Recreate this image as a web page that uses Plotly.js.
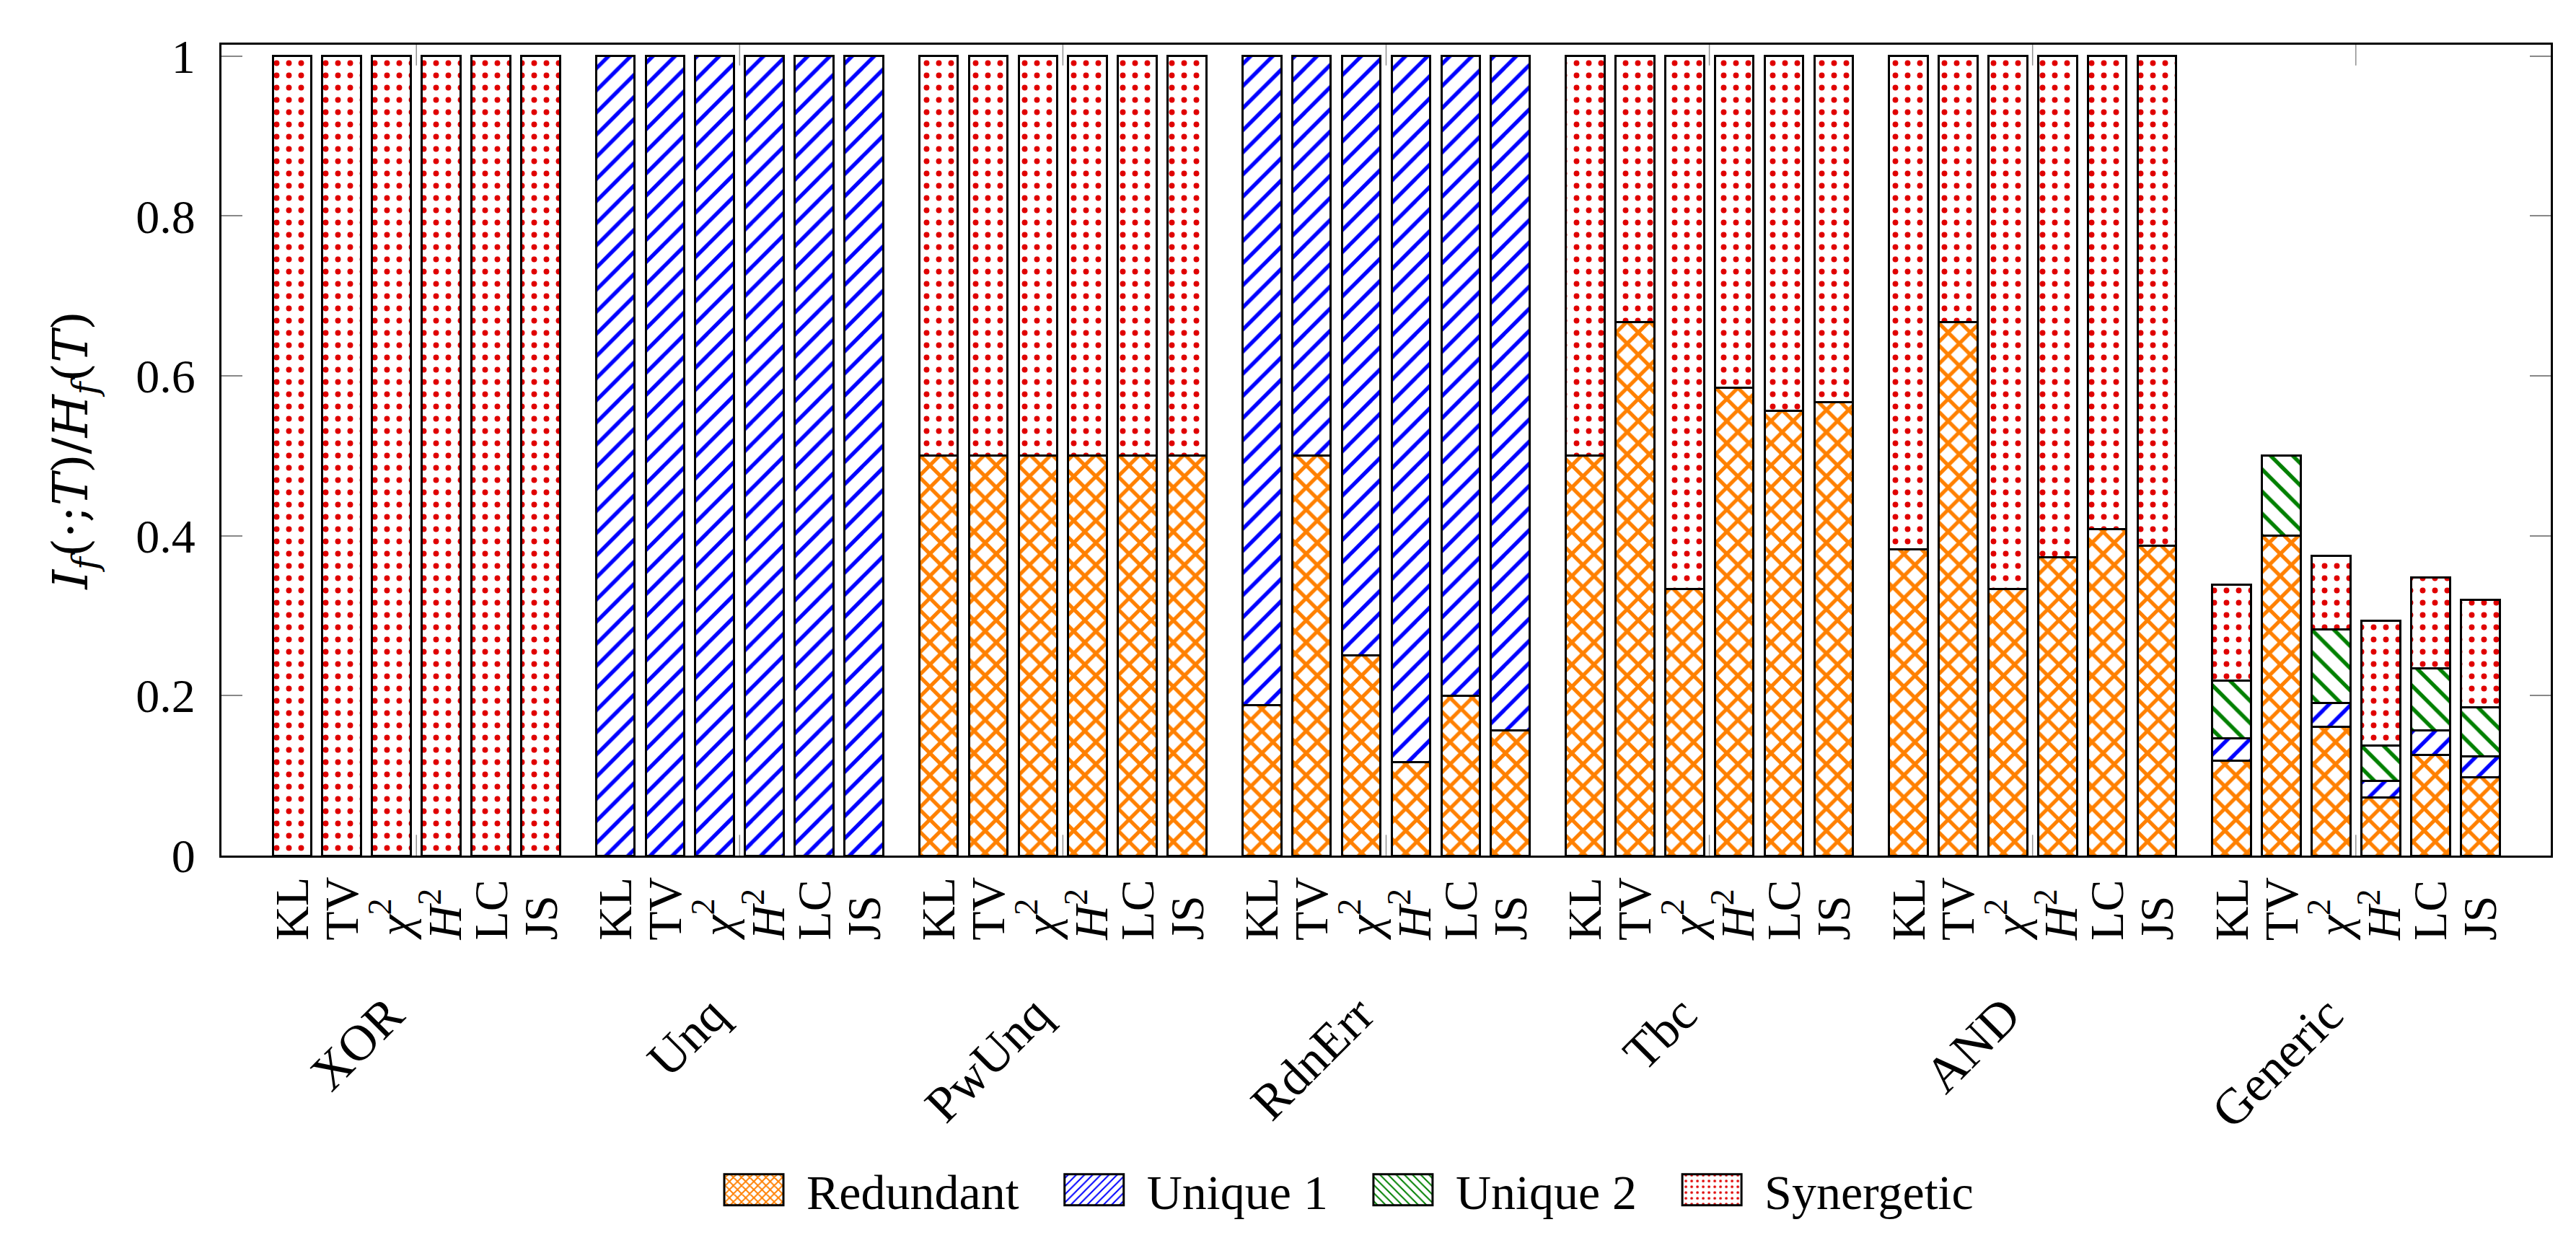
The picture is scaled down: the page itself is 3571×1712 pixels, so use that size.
<!DOCTYPE html>
<html>
<head>
<meta charset="utf-8">
<script src="https://cdn.plot.ly/plotly-3.0.1.min.js"></script>
<style>
  html, body { margin: 0; padding: 0; background: #ffffff; }
  #chart { width: 3571px; height: 1712px; }
</style>
</head>
<body>
<div id="chart"></div>
<script>
var groups = ['XOR', 'Unq', 'PwUnq', 'RdnErr', 'Tbc', 'AND', 'Generic'];
var metrics = ['KL', 'TV', '<i>χ</i><sup>2</sup>', '<i>H</i><sup>2</sup>', 'LC', 'JS'];
var seriesNames = ['Redundant', 'Unique 1', 'Unique 2', 'Synergetic'];
var yTicks = [0, 0.2, 0.4, 0.6, 0.8, 1];

// one row per group, one value per metric
var redundant = [
  [0, 0, 0, 0, 0, 0],
  [0, 0, 0, 0, 0, 0],
  [0.5, 0.5, 0.5, 0.5, 0.5, 0.5],
  [0.188, 0.5, 0.25, 0.117, 0.2, 0.157],
  [0.5, 0.667, 0.333, 0.585, 0.556, 0.567],
  [0.383, 0.667, 0.333, 0.373, 0.408, 0.388],
  [0.119, 0.4, 0.161, 0.073, 0.126, 0.098]
];
var unique1 = [
  [0, 0, 0, 0, 0, 0],
  [1, 1, 1, 1, 1, 1],
  [0, 0, 0, 0, 0, 0],
  [0.812, 0.5, 0.75, 0.883, 0.8, 0.843],
  [0, 0, 0, 0, 0, 0],
  [0, 0, 0, 0, 0, 0],
  [0.028, 0, 0.03, 0.02, 0.031, 0.026]
];
var unique2 = [
  [0, 0, 0, 0, 0, 0],
  [0, 0, 0, 0, 0, 0],
  [0, 0, 0, 0, 0, 0],
  [0, 0, 0, 0, 0, 0],
  [0, 0, 0, 0, 0, 0],
  [0, 0, 0, 0, 0, 0],
  [0.072, 0.1, 0.092, 0.045, 0.077, 0.061]
];
var synergetic = [
  [1, 1, 1, 1, 1, 1],
  [0, 0, 0, 0, 0, 0],
  [0.5, 0.5, 0.5, 0.5, 0.5, 0.5],
  [0, 0, 0, 0, 0, 0],
  [0.5, 0.333, 0.667, 0.415, 0.444, 0.433],
  [0.617, 0.333, 0.667, 0.627, 0.592, 0.612],
  [0.12, 0, 0.092, 0.156, 0.114, 0.135]
];

var FONT = 'Liberation Serif, Times New Roman, serif';
var TITLE_FONT = 'DejaVu Serif, serif';
var GROUP_STEP = 6.5;
var Y_TOP = 1.0143;
var TICK_LEN = 0.0259; // 29 px in y units
var styles = [
  { shape: 'x', color: '#ff8000', size: 21.7, solidity: 0.42 },
  { shape: '/', color: '#0000ff', size: 21.7, solidity: 0.25 },
  { shape: '\\', color: '#008000', size: 21.7, solidity: 0.25 },
  { shape: '.', color: '#e00000', size: 17, solidity: 0.17 }
];

function bar_position(g, i) {
  return g * GROUP_STEP + i;
}

function flatten(rows) {
  var out = [];
  rows.forEach(function (row) {
    row.forEach(function (v) { out.push(v); });
  });
  return out;
}

var xs = [];
groups.forEach(function (name, g) {
  metrics.forEach(function (m, i) { xs.push(bar_position(g, i)); });
});

var traces = [redundant, unique1, unique2, synergetic].map(function (rows, k) {
  var st = styles[k];
  return {
    type: 'bar',
    name: seriesNames[k],
    x: xs,
    y: flatten(rows),
    width: 0.78,
    marker: {
      color: st.color,
      line: { color: '#000000', width: 3 },
      pattern: {
        shape: st.shape,
        fgcolor: st.color,
        bgcolor: '#ffffff',
        size: st.size,
        solidity: st.solidity,
        fillmode: 'replace'
      }
    },
    hoverinfo: 'skip'
  };
});

var annotations = [];
var shapes = [];
groups.forEach(function (name, g) {
  var center = bar_position(g, 2.5);
  metrics.forEach(function (m, i) {
    annotations.push({
      text: m,
      x: bar_position(g, i),
      xref: 'x',
      y: -0.1066,
      yref: 'paper',
      xanchor: 'center',
      yanchor: 'bottom',
      textangle: -90,
      showarrow: false,
      font: { family: FONT, size: 66, color: '#000000' }
    });
  });
  annotations.push({
    text: name,
    x: center,
    xref: 'x',
    y: -0.1586,
    yref: 'paper',
    xanchor: 'right',
    yanchor: 'top',
    textangle: -45,
    showarrow: false,
    font: { family: FONT, size: 70, color: '#000000' }
  });
  // short gray group ticks at the bottom and top frame
  shapes.push({
    type: 'line', xref: 'x', yref: 'y',
    x0: center, x1: center, y0: 0, y1: TICK_LEN,
    line: { color: '#909090', width: 1.5 }
  });
  shapes.push({
    type: 'line', xref: 'x', yref: 'y',
    x0: center, x1: center, y0: Y_TOP - TICK_LEN, y1: Y_TOP,
    line: { color: '#909090', width: 1.5 }
  });
});

var layout = {
  width: 3571,
  height: 1712,
  margin: { l: 307, r: 35, t: 62, b: 515, pad: 0 },
  paper_bgcolor: '#ffffff',
  plot_bgcolor: '#ffffff',
  barmode: 'stack',
  font: { family: FONT, size: 66, color: '#000000' },
  showlegend: true,
  legend: {
    orientation: 'h',
    traceorder: 'normal',
    x: 0.1979,
    xanchor: 'left',
    y: -0.4123,
    yanchor: 'middle',
    valign: 'middle',
    itemwidth: 162,
    itemclick: false,
    itemdoubleclick: false,
    font: { family: FONT, size: 68, color: '#000000' }
  },
  annotations: annotations,
  shapes: shapes,
  xaxis: {
    range: [-1.42, bar_position(groups.length - 1, 5) + 1.42],
    showticklabels: false,
    ticks: '',
    showgrid: false,
    zeroline: false,
    showline: true,
    linecolor: '#000000',
    linewidth: 3,
    mirror: true
  },
  yaxis: {
    range: [0, Y_TOP],
    tickmode: 'array',
    tickvals: yTicks,
    ticks: 'inside',
    ticklen: 29,
    tickwidth: 2,
    tickcolor: '#888888',
    ticklabelstandoff: 20,
    showgrid: false,
    zeroline: false,
    showline: true,
    linecolor: '#000000',
    linewidth: 3,
    mirror: 'ticks',
    tickfont: { family: FONT, size: 66, color: '#000000' },
    title: {
      text: '<i>I<sub>f</sub></i>(·;<i>T</i>)/<i>H<sub>f</sub></i>(<i>T</i>)',
      standoff: 45,
      font: { family: TITLE_FONT, size: 68, color: '#000000' }
    },
    automargin: false
  }
};

var config = { staticPlot: true, displayModeBar: false };

// widen the legend swatches to the size of the boxes in the original figure
function widen_legend_swatches(gd) {
  var items = gd.querySelectorAll('.legend .traces');
  items.forEach(function (item) {
    var text = item.querySelector('text.legendtext');
    var swatch = item.querySelector('.legendpoints path');
    if (!text || !swatch) {
      return;
    }
    var tx = parseFloat(text.getAttribute('x')) || 0;
    swatch.setAttribute('d', 'M41,21.5H-41V-21.5H41Z');
    swatch.setAttribute('transform', 'translate(' + (tx - 32 - 41) + ',0)');
    swatch.style.strokeWidth = '3px';
  });
}

Plotly.newPlot('chart', traces, layout, config).then(widen_legend_swatches);
</script>
</body>
</html>
